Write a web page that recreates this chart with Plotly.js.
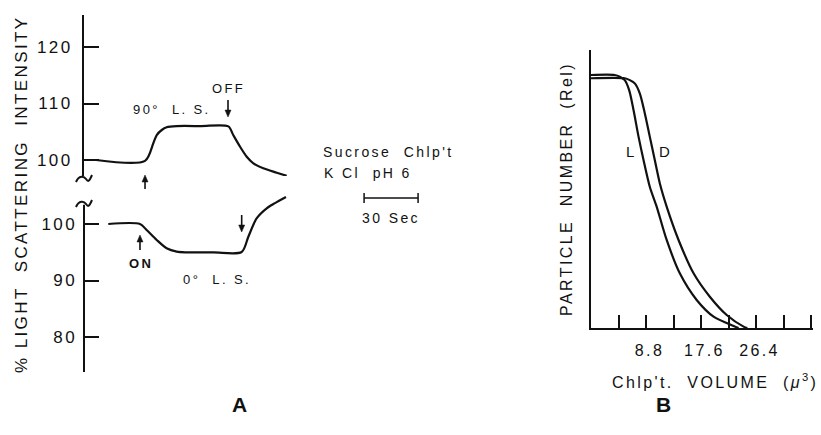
<!DOCTYPE html>
<html>
<head>
<meta charset="utf-8">
<script src="https://cdn.plot.ly/plotly-3.0.1.min.js"></script>
<style>
  html, body { margin: 0; padding: 0; background: #fff; }
  #chart { width: 821px; height: 435px; }
  svg text { letter-spacing: 2.4px; }
</style>
</head>
<body>
<div id="chart"></div>
<script>
// ---- Panel A: light scattering vs time (s) ----
const timeUpper = [6.7, 33.9, 38.5, 40.4, 43.2, 45.9, 51.5, 65, 80.2, 82.9, 86.7, 90.4, 94.1, 99.6, 107.1, 112.6];
const ls90      = [100, 99.85, 102.96, 104.42, 105.31, 105.79, 106.0, 106.0, 105.95, 104.42, 102.35, 100.58, 99.42, 98.53, 97.75, 97.2];
const timeLower = [13.5, 31.1, 34.8, 40.4, 45.9, 51.5, 57.1, 72, 87.6, 91.3, 95.9, 101.5, 106.1, 112.2];
const ls0       = [100, 100, 98.94, 97.17, 95.7, 95.1, 94.98, 94.98, 95.05, 97.75, 101.0, 102.78, 103.7, 104.78];
const upperTicks = [100, 110, 120];
const lowerTicks = [80, 90, 100];
const lightOn = 33.9, lightOff = 80.0;       // arrow times, upper trace
const lightOn0 = 31.1, lightOff0 = 87.6;     // arrow times, lower trace
const scaleBarStart = 155.6, scaleBarLength = 30;

// ---- Panel B: particle number vs chloroplast volume ----
const volL = [0, 3.8, 4.6, 5.4, 6.1, 6.8, 7.6, 8.4, 9.4, 10.5, 12.1, 14.2, 16.9, 19.6, 22.8, 23.6];
const numL = [1.092, 1.092, 1.085, 1.07, 1.027, 0.941, 0.826, 0.725, 0.61, 0.524, 0.38, 0.236, 0.121, 0.049, 0.009, 0];
const volD = [0, 5.4, 6.2, 7.0, 7.8, 8.6, 9.4, 10.2, 11.0, 12.1, 14.0, 16.4, 19.0, 21.7, 24.4, 25.0];
const numD = [1.078, 1.078, 1.07, 1.056, 1.013, 0.927, 0.826, 0.725, 0.625, 0.524, 0.38, 0.236, 0.135, 0.056, 0.006, 0];
const volTicks = [8.8, 17.6, 26.4];
const volTickText = [' 8.8', ' 17.6', ' 26.4'];
const volMinorStep = 4.4;

const W = 821, H = 435;
const fx = p => p / W;
const fy = p => 1 - p / H;
const FONT = 'Liberation Sans, Arial, sans-serif';
const INK = '#111';
const lineStyle = {color: INK, width: 2.2, shape: 'spline', smoothing: 0.8};

const traces = [
  {x: timeUpper, y: ls90, xaxis: 'x', yaxis: 'y', mode: 'lines', line: lineStyle, name: '90° L.S.'},
  {x: timeLower, y: ls0, xaxis: 'x', yaxis: 'y2', mode: 'lines', line: lineStyle, name: '0° L.S.'},
  {x: volL, y: numL, xaxis: 'x2', yaxis: 'y3', mode: 'lines', line: lineStyle, name: 'L'},
  {x: volD, y: numD, xaxis: 'x2', yaxis: 'y3', mode: 'lines', line: lineStyle, name: 'D'}
];

const tickFont = {family: FONT, size: 17, color: INK};

const xA = {domain: [fx(84), fx(460)], range: [0, (460 - 84) / 1.8], visible: false, fixedrange: true};
const yUp = {
  domain: [fy(176), fy(15)], range: [97.17, 125.66], anchor: 'x',
  showline: true, linecolor: INK, linewidth: 2,
  ticks: 'inside', ticklen: 15, tickwidth: 2, tickcolor: INK,
  tickvals: upperTicks, tickfont: tickFont, ticklabelstandoff: 6,
  showgrid: false, zeroline: false
};
const yLow = {
  domain: [fy(372), fy(195)], range: [73.81, 105.13], anchor: 'x',
  showline: false,
  ticks: 'inside', ticklen: 15, tickwidth: 2, tickcolor: INK,
  tickvals: lowerTicks, tickfont: tickFont, ticklabelstandoff: 6,
  showgrid: false, zeroline: false
};

function yPaper(ax, v) {
  const [d0, d1] = ax.domain, [r0, r1] = ax.range;
  return d0 + (v - r0) / (r1 - r0) * (d1 - d0);
}
// vertical arrow (dir = 1 points up, -1 points down), tip at data value
function arrow(t, ax, tipVal, lenPx, dir) {
  const tip = yPaper(ax, tipVal);
  const tail = tip - dir * lenPx / H;
  const base = tip - dir * 7 / H;
  const dx = 3 / 1.8;
  return [
    {type: 'line', xref: 'x', yref: 'paper', x0: t, x1: t, y0: tail, y1: base, line: {color: INK, width: 1.6}},
    {type: 'path', xref: 'x', yref: 'paper', path: `M ${t - dx},${base} L ${t},${tip} L ${t + dx},${base} Z`,
     fillcolor: INK, line: {color: INK, width: 0.5}}
  ];
}
function squiggle(cy) {
  const pts = [[76, cy + 4], [79, cy - 3], [84, cy - 2], [86, cy + 1], [89, cy + 4], [92, cy - 3]];
  const p = pts.map(q => [fx(q[0]), fy(q[1])]);
  return {
    type: 'path', xref: 'paper', yref: 'paper',
    path: `M ${p[0][0]},${p[0][1]} C ${p[1][0]},${p[1][1]} ${p[2][0]},${p[2][1]} ${p[3][0]},${p[3][1]} S ${p[4][0]},${p[4][1]} ${p[5][0]},${p[5][1]}`,
    line: {color: INK, width: 2}
  };
}

const barY = fy(198);
const txt = (size, bold) => ({family: FONT, size: size, color: INK, weight: bold ? 'bold' : 'normal'});
const layout = {
  width: W, height: H,
  margin: {l: 0, r: 0, t: 0, b: 0},
  paper_bgcolor: '#fff', plot_bgcolor: 'rgba(0,0,0,0)',
  showlegend: false,
  font: {family: FONT, color: INK},
  xaxis: xA, yaxis: yUp, yaxis2: yLow,
  xaxis2: {
    domain: [fx(591), fx(813)], range: [0, 35.5], anchor: 'y3',
    showline: true, linecolor: INK, linewidth: 2,
    ticks: 'inside', ticklen: 13, tickwidth: 2, tickcolor: INK,
    tickvals: volTicks, ticktext: volTickText,
    minor: {tick0: 0, dtick: volMinorStep, ticks: 'inside', ticklen: 13, tickwidth: 2, tickcolor: INK, showgrid: false},
    tickfont: {family: FONT, size: 16, color: INK}, ticklabelstandoff: 7,
    showgrid: false, zeroline: false
  },
  yaxis3: {
    domain: [fy(328), fy(50)], range: [0, 1.2], anchor: 'x2',
    showline: true, linecolor: INK, linewidth: 2,
    ticks: '', showticklabels: false, showgrid: false, zeroline: false,
    title: {text: 'PARTICLE  NUMBER  (Rel)', font: txt(16), standoff: 12}
  },
  shapes: [
    {type: 'line', xref: 'paper', yref: 'y2', x0: fx(84), x1: fx(84), y0: 73.81, y1: 103.4, line: {color: INK, width: 2}},
    squiggle(178),
    squiggle(203),
    ...arrow(lightOn, yUp, 97.35, 14, 1),
    ...arrow(lightOff, yUp, 107.6, 17, -1),
    ...arrow(lightOn0, yLow, 98.05, 15, 1),
    ...arrow(lightOff0, yLow, 98.58, 17, -1),
    {type: 'line', xref: 'x', yref: 'paper', x0: scaleBarStart, x1: scaleBarStart + scaleBarLength, y0: barY, y1: barY, line: {color: INK, width: 1.5}},
    {type: 'line', xref: 'x', yref: 'paper', x0: scaleBarStart, x1: scaleBarStart, y0: fy(193), y1: fy(203), line: {color: INK, width: 1.5}},
    {type: 'line', xref: 'x', yref: 'paper', x0: scaleBarStart + scaleBarLength, x1: scaleBarStart + scaleBarLength, y0: fy(193), y1: fy(203), line: {color: INK, width: 1.5}}
  ],
  annotations: [
    {xref: 'paper', yref: 'paper', x: fx(21), y: fy(194), xanchor: 'center', yanchor: 'middle',
     text: '% LIGHT  SCATTERING  INTENSITY', textangle: -90, showarrow: false, font: txt(17)},
    {xref: 'x', yref: 'y', x: 48.9, y: 108.85, xanchor: 'center', yanchor: 'middle', text: '90°  L. S.', showarrow: false, font: txt(13)},
    {xref: 'x', yref: 'y', x: lightOff, y: 112.74, xanchor: 'center', yanchor: 'middle', text: 'OFF', showarrow: false, font: txt(13)},
    {xref: 'x', yref: 'y2', x: lightOn0 + 0.8, y: 93.04, xanchor: 'center', yanchor: 'middle', text: 'ON', showarrow: false, font: txt(13, true)},
    {xref: 'x', yref: 'y2', x: 73.9, y: 90.1, xanchor: 'center', yanchor: 'middle', text: '0°  L. S.', showarrow: false, font: txt(13)},
    {xref: 'paper', yref: 'paper', x: fx(321), y: fy(152), xanchor: 'left', yanchor: 'middle', text: 'Sucrose  Chlp\'t', showarrow: false, font: txt(14)},
    {xref: 'paper', yref: 'paper', x: fx(322), y: fy(173), xanchor: 'left', yanchor: 'middle', text: 'K Cl  pH 6', showarrow: false, font: txt(14)},
    {xref: 'x', yref: 'paper', x: scaleBarStart + scaleBarLength / 2, y: fy(218), xanchor: 'center', yanchor: 'middle', text: '30 Sec', showarrow: false, font: txt(14)},
    {xref: 'x2', yref: 'y3', x: 6.5, y: 0.761, xanchor: 'center', yanchor: 'middle', text: 'L', showarrow: false, font: txt(15)},
    {xref: 'x2', yref: 'y3', x: 11.84, y: 0.761, xanchor: 'center', yanchor: 'middle', text: 'D', showarrow: false, font: txt(15)},
    {xref: 'paper', yref: 'paper', x: fx(715), y: fy(381), xanchor: 'center', yanchor: 'middle',
     text: 'Chlp\'t.  VOLUME  (<i>μ</i><sup>3</sup>)', showarrow: false, font: txt(16)},
    {xref: 'paper', yref: 'paper', x: fx(241), y: fy(404), xanchor: 'center', yanchor: 'middle', text: 'A', showarrow: false, font: txt(21, true)},
    {xref: 'paper', yref: 'paper', x: fx(665), y: fy(404), xanchor: 'center', yanchor: 'middle', text: 'B', showarrow: false, font: txt(21, true)}
  ]
};

Plotly.newPlot('chart', traces, layout, {staticPlot: true, displayModeBar: false});
</script>
</body>
</html>
